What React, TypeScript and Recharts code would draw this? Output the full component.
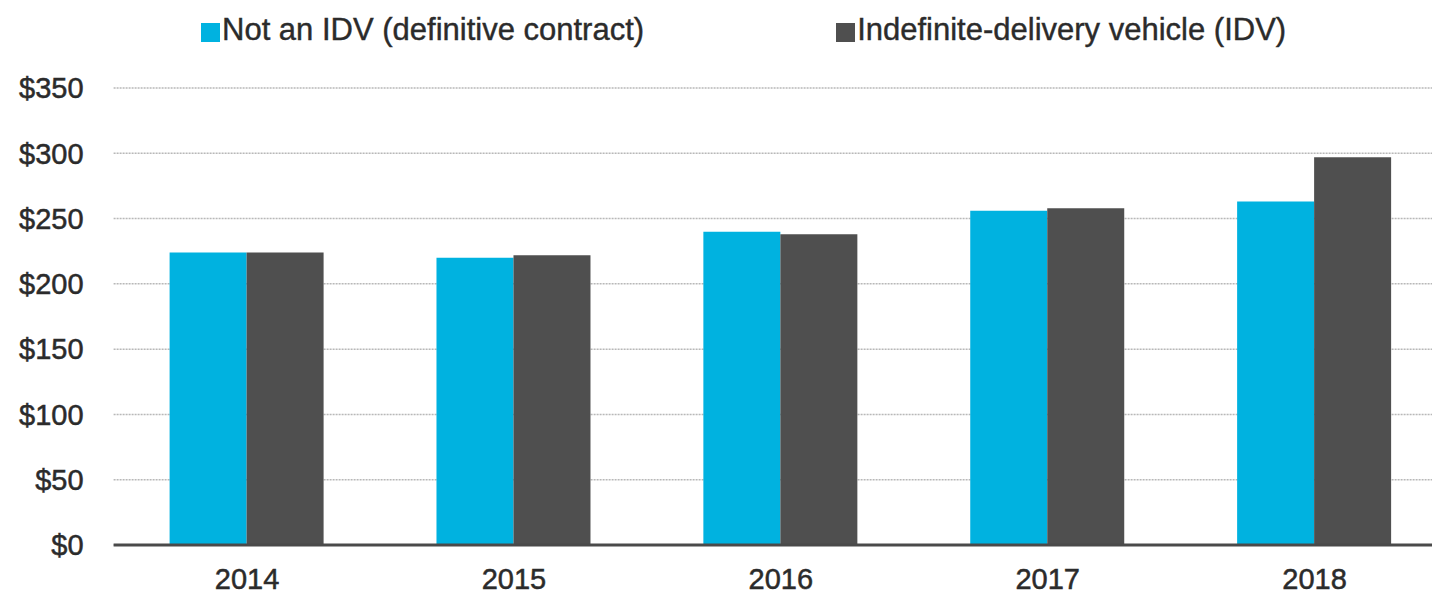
import { BarChart, Bar, XAxis, YAxis, CartesianGrid, Legend } from 'recharts';

const years = ['2014', '2015', '2016', '2017', '2018'];
const notIdv = [224, 220, 240, 256, 263];
const idv = [224, 222, 238, 258, 297];
const yTicks = [0, 50, 100, 150, 200, 250, 300, 350];

const seriesNames = {
  notIdv: 'Not an IDV (definitive contract)',
  idv: 'Indefinite-delivery vehicle (IDV)',
};
const seriesOrder = [seriesNames.notIdv, seriesNames.idv];

const data = years.map((year, i) => ({ year, notIdv: notIdv[i], idv: idv[i] }));

const FONT = '"Liberation Sans", Arial, Helvetica, sans-serif';
const TEXT = '#2b2b2b';

function ChartLegend({ payload }: any) {
  const items = [...(payload || [])].sort(
    (a: any, b: any) => seriesOrder.indexOf(a.value) - seriesOrder.indexOf(b.value)
  );
  return (
    <div style={{ height: 78, display: 'flex', alignItems: 'flex-start', paddingLeft: 201, paddingTop: 3, boxSizing: 'border-box' }}>
      {items.map((entry: any, i: number) => (
        <div
          key={entry.value}
          style={{ display: 'flex', alignItems: 'center', marginLeft: i === 0 ? 0 : 192, lineHeight: '34px' }}
        >
          <span style={{ width: 19, height: 19, background: entry.color, display: 'inline-block', marginRight: 2, marginTop: 4 }} />
          <span style={{ fontFamily: FONT, fontSize: 31, color: TEXT, whiteSpace: 'nowrap', WebkitTextStroke: '0.4px #2b2b2b' }}>
            {entry.value}
          </span>
        </div>
      ))}
    </div>
  );
}

export default function App() {
  return (
    <div style={{ margin: -8, width: 1440, height: 598, overflow: 'hidden', background: '#fff' }}>
      <BarChart
        width={1448}
        height={598}
        data={data}
        margin={{ top: 10, right: 0, bottom: 0, left: 0 }}
        barGap={0}
      >
        <CartesianGrid vertical={false} stroke="#b8b8b8" strokeWidth={1.5} strokeDasharray="2 1" />
        <XAxis
          dataKey="year"
          height={53}
          tickLine={false}
          tickSize={0}
          tickMargin={23}
          axisLine={{ stroke: '#4a4a4a', strokeWidth: 3 }}
          tick={{ fontFamily: FONT, fontSize: 29, fill: TEXT, stroke: TEXT, strokeWidth: 0.5 }}
        />
        <YAxis
          width={113.6}
          domain={[0, 350]}
          ticks={yTicks}
          tickFormatter={(v) => `$${v}`}
          axisLine={false}
          tickLine={false}
          tickSize={0}
          tickMargin={30}
          tick={{ fontFamily: FONT, fontSize: 29, fill: TEXT, stroke: TEXT, strokeWidth: 0.5 }}
        />
        <Legend verticalAlign="top" content={<ChartLegend />} wrapperStyle={{ left: 0, top: 10, width: 1448 }} />
        <Bar dataKey="notIdv" name={seriesNames.notIdv} fill="#00b2e0" barSize={77} isAnimationActive={false} />
        <Bar dataKey="idv" name={seriesNames.idv} fill="#4f4f4f" barSize={77} isAnimationActive={false} />
      </BarChart>
    </div>
  );
}
